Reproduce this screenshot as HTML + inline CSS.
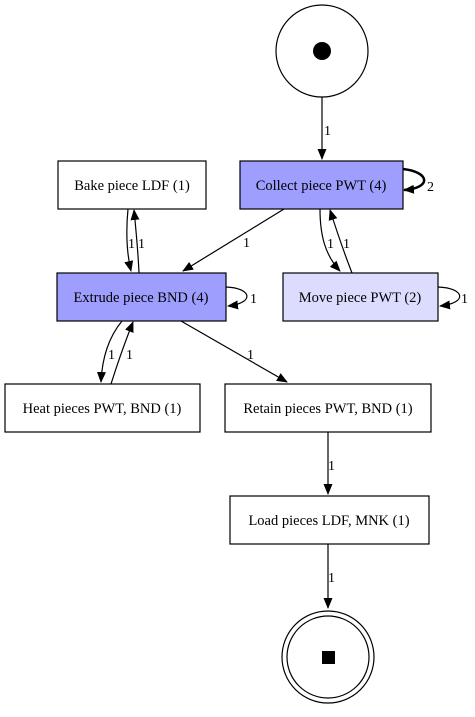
<!DOCTYPE html>
<html><head><meta charset="utf-8"><style>body{margin:0;background:#fff} text{font-family:"Liberation Serif","DejaVu Serif",serif}</style></head><body>
<svg width="475" height="712" xmlns="http://www.w3.org/2000/svg" font-size="14.5">
<defs><marker id="a" markerWidth="11" markerHeight="9" refX="10" refY="4.5" orient="auto" markerUnits="userSpaceOnUse"><path d="M0,0 L11,4.5 L0,9 z" fill="#000"/></marker></defs>
<g fill="none" stroke="#000" stroke-width="1.2">
<circle cx="322" cy="51" r="46"/>
<circle cx="328" cy="657" r="46"/><circle cx="328" cy="657" r="41"/>
<path d="M322 97 L322 159" marker-end="url(#a)"/>
<path d="M403 169 C430 172 432 188 404 190" stroke-width="2.5" marker-end="url(#a)"/>
<path d="M128 209 C126 230 126 250 131 271" marker-end="url(#a)"/>
<path d="M139 273 C138 250 136 230 134 210" marker-end="url(#a)"/>
<path d="M284 209 L183 271" marker-end="url(#a)"/>
<path d="M320 209 C320 235 325 255 340 271" marker-end="url(#a)"/>
<path d="M352 273 C345 255 338 235 330 210" marker-end="url(#a)"/>
<path d="M226 287 C252 288 255 303 228 306" marker-end="url(#a)"/>
<path d="M438 287 C465 288 468 303 440 306" marker-end="url(#a)"/>
<path d="M122 321 C108 338 102 360 101 382" marker-end="url(#a)"/>
<path d="M111 384 C118 362 125 342 133 322" marker-end="url(#a)"/>
<path d="M181 321 L287 382" marker-end="url(#a)"/>
<path d="M328 432 L328 494" marker-end="url(#a)"/>
<path d="M328 544 L328 608" marker-end="url(#a)"/>
</g>
<circle cx="322" cy="51" r="9" fill="#000"/>
<rect x="322" y="651" width="13" height="13" fill="#000"/>
<g stroke="#000" stroke-width="1.2">
<rect x="58" y="161" width="148" height="48" fill="#fff"/>
<rect x="240" y="161" width="163" height="48" fill="#9e9eff"/>
<rect x="57" y="273" width="169" height="48" fill="#9e9eff"/>
<rect x="283" y="273" width="155" height="48" fill="#dcdcff"/>
<rect x="5" y="384" width="195" height="48" fill="#fff"/>
<rect x="225" y="384" width="206" height="48" fill="#fff"/>
<rect x="230" y="496" width="199" height="48" fill="#fff"/>
</g>
<g text-anchor="middle">
<text x="132" y="190">Bake piece LDF (1)</text>
<text x="321" y="190">Collect piece PWT (4)</text>
<text x="141" y="302">Extrude piece BND (4)</text>
<text x="360" y="302">Move piece PWT (2)</text>
<text x="102" y="413">Heat pieces PWT, BND (1)</text>
<text x="328" y="413">Retain pieces PWT, BND (1)</text>
<text x="329" y="525">Load pieces LDF, MNK (1)</text>
</g>
<g font-size="14">
<text x="324" y="135">1</text>
<text x="427" y="191">2</text>
<text x="128" y="248">1</text><text x="138" y="248">1</text>
<text x="243" y="247">1</text>
<text x="327" y="248">1</text><text x="343" y="248">1</text>
<text x="250" y="303">1</text>
<text x="461" y="303">1</text>
<text x="108" y="359">1</text><text x="126" y="359">1</text>
<text x="247" y="359">1</text>
<text x="328" y="470">1</text>
<text x="328" y="582">1</text>
</g>
</svg>
</body></html>
